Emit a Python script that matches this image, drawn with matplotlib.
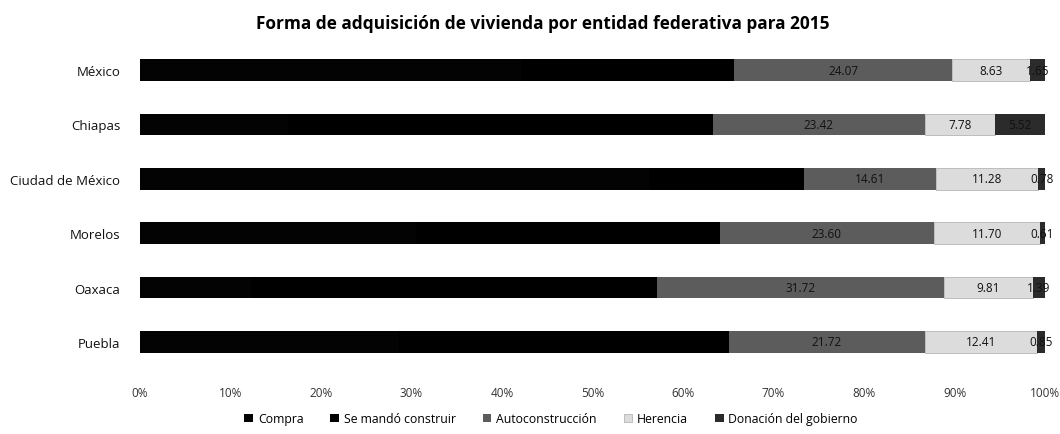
import matplotlib
matplotlib.use("Agg")
import matplotlib.pyplot as plt
import numpy as np

plt.rcParams['font.family'] = ['Open Sans', 'DejaVu Sans']

estados = ['México', 'Chiapas', 'Ciudad de México', 'Morelos', 'Oaxaca', 'Puebla']
# the two first series print black in the scan, their split is an estimate
compra = [42.10, 16.40, 56.20, 30.50, 12.30, 28.60]
mando = [23.55, 46.88, 17.13, 33.59, 44.78, 36.42]
auto = [24.07, 23.42, 14.61, 23.60, 31.72, 21.72]
herencia = [8.63, 7.78, 11.28, 11.70, 9.81, 12.41]
donacion = [1.65, 5.52, 0.78, 0.61, 1.39, 0.85]
series_names = ['Compra', 'Se mandó construir', 'Autoconstrucción', 'Herencia',
                'Donación del gobierno']
xticks = [0, 10, 20, 30, 40, 50, 60, 70, 80, 90, 100]
xlabels = ['0%', '10%', '20%', '30%', '40%', '50%', '60%', '70%', '80%', '90%', '100%']

colors = ['#030303', '#000000', '#5c5c5c', '#dcdcdc', '#2b2b2b']
edges = ['#030303', '#000000', '#5c5c5c', '#999999', '#2b2b2b']
series = [compra, mando, auto, herencia, donacion]

fig = plt.figure(figsize=(10.6, 4.35), dpi=100)
ax = fig.add_axes([0.132, 0.149, 0.854, 0.75])

y = np.arange(len(estados))
left = np.zeros(len(estados))
for i, (vals, name) in enumerate(zip(series, series_names)):
    vals = np.array(vals)
    ax.barh(y, vals, left=left, height=0.4, color=colors[i], label=name,
            edgecolor=edges[i], linewidth=0.4 if i == 3 else 0)
    if i >= 2:
        for yy, l, v in zip(y, left, vals):
            ax.text(l + v / 2, yy, '%.2f' % v, ha='center', va='center',
                    fontsize=8.5, color='#111111')
    left = left + vals

ax.set_xlim(0, 100)
ax.set_ylim(len(estados) - 0.5, -0.5)
ax.set_yticks(y)
ax.set_yticklabels(estados, fontsize=9.5, color='#111111')
ax.set_xticks(xticks)
ax.set_xticklabels(xlabels, fontsize=8.5, color='#333333')
ax.tick_params(length=0, pad=12)
ax.tick_params(axis='y', pad=14)
for s in ax.spines.values():
    s.set_visible(False)

fig.suptitle('Forma de adquisición de vivienda por entidad federativa para 2015',
             fontsize=12.4, fontweight='bold', x=0.512, y=0.965)
fig.legend(loc='lower center', bbox_to_anchor=(0.52, -0.005), ncol=5, frameon=False,
           fontsize=8.8, handlelength=0.7, handleheight=0.7, handletextpad=0.4,
           columnspacing=2.2)

fig.savefig('out.png', dpi=100)
